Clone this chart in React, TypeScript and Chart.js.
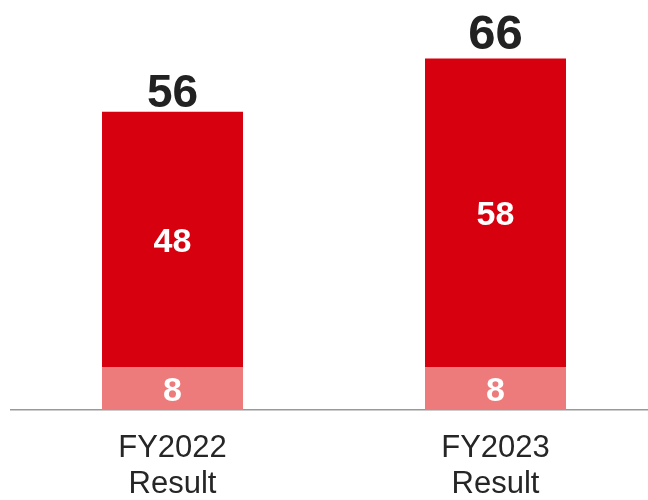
import React, { useEffect, useRef } from "react";
import { Chart, registerables } from "chart.js";

Chart.register(...registerables);

const categories: string[][] = [["FY2022", "Result"], ["FY2023", "Result"]];
const baseValues: number[] = [8, 8];
const mainValues: number[] = [48, 58];
const totals: number[] = [56, 66];

const RED = "#D7000F";
const PINK = "#EE7B7B";
const FONT = "'Liberation Sans', Arial, sans-serif";

const totalStyle = { sizes: [46, 49], gaps: [4.5, 9.5] };

const labelPlugin = {
  id: "barLabels",
  afterDatasetsDraw(chart: any) {
    const ctx = chart.ctx;
    ctx.save();
    ctx.textAlign = "center";
    ctx.textBaseline = "alphabetic";
    chart.data.datasets.forEach((ds: any, di: number) => {
      const meta = chart.getDatasetMeta(di);
      meta.data.forEach((bar: any, i: number) => {
        const top = Math.min(bar.y, bar.base);
        const bottom = Math.max(bar.y, bar.base);
        const cy = (top + bottom) / 2;
        ctx.font = `bold 34px ${FONT}`;
        ctx.fillStyle = "#FFFFFF";
        ctx.fillText(String(ds.data[i]), bar.x, cy + 12);
      });
    });
    const lastMeta = chart.getDatasetMeta(chart.data.datasets.length - 1);
    lastMeta.data.forEach((bar: any, i: number) => {
      ctx.font = `bold ${totalStyle.sizes[i]}px ${FONT}`;
      ctx.fillStyle = "#222222";
      ctx.fillText(String(totals[i]), bar.x, bar.y - totalStyle.gaps[i]);
    });
    ctx.restore();
  },
};

export default function App() {
  const ref = useRef<HTMLCanvasElement | null>(null);
  useEffect(() => {
    if (!ref.current) return;
    const chart = new Chart(ref.current, {
      type: "bar",
      data: {
        labels: categories,
        datasets: [
          { data: baseValues, backgroundColor: PINK, borderWidth: 0 },
          { data: mainValues, backgroundColor: RED, borderWidth: 0 },
        ],
      },
      options: {
        responsive: false,
        animation: false,
        layout: { padding: { left: 11, right: 3, top: 0, bottom: 0 } },
        plugins: { legend: { display: false }, tooltip: { enabled: false } },
        datasets: { bar: { categoryPercentage: 1, barPercentage: 0.4365 } },
        scales: {
          x: {
            stacked: true,
            grid: { display: false, drawTicks: false },
            border: { display: true, color: "#999999", width: 1.5 },
            ticks: {
              padding: 20,
              color: "#262626",
              font: { family: FONT, size: 31, lineHeight: 1.18 },
              maxRotation: 0,
              autoSkip: false,
            },
            afterFit: (scale: any) => {
              scale.height = 90;
            },
          },
          y: {
            stacked: true,
            display: false,
            min: 0,
            max: 77,
          },
        },
      },
      plugins: [labelPlugin],
    });
    return () => chart.destroy();
  }, []);
  return (
    <div style={{ position: "fixed", left: 0, top: 0, width: 648, height: 500, overflow: "hidden", background: "#fff" }}>
      <canvas ref={ref} width={660} height={500} style={{ display: "block" }} />
    </div>
  );
}
